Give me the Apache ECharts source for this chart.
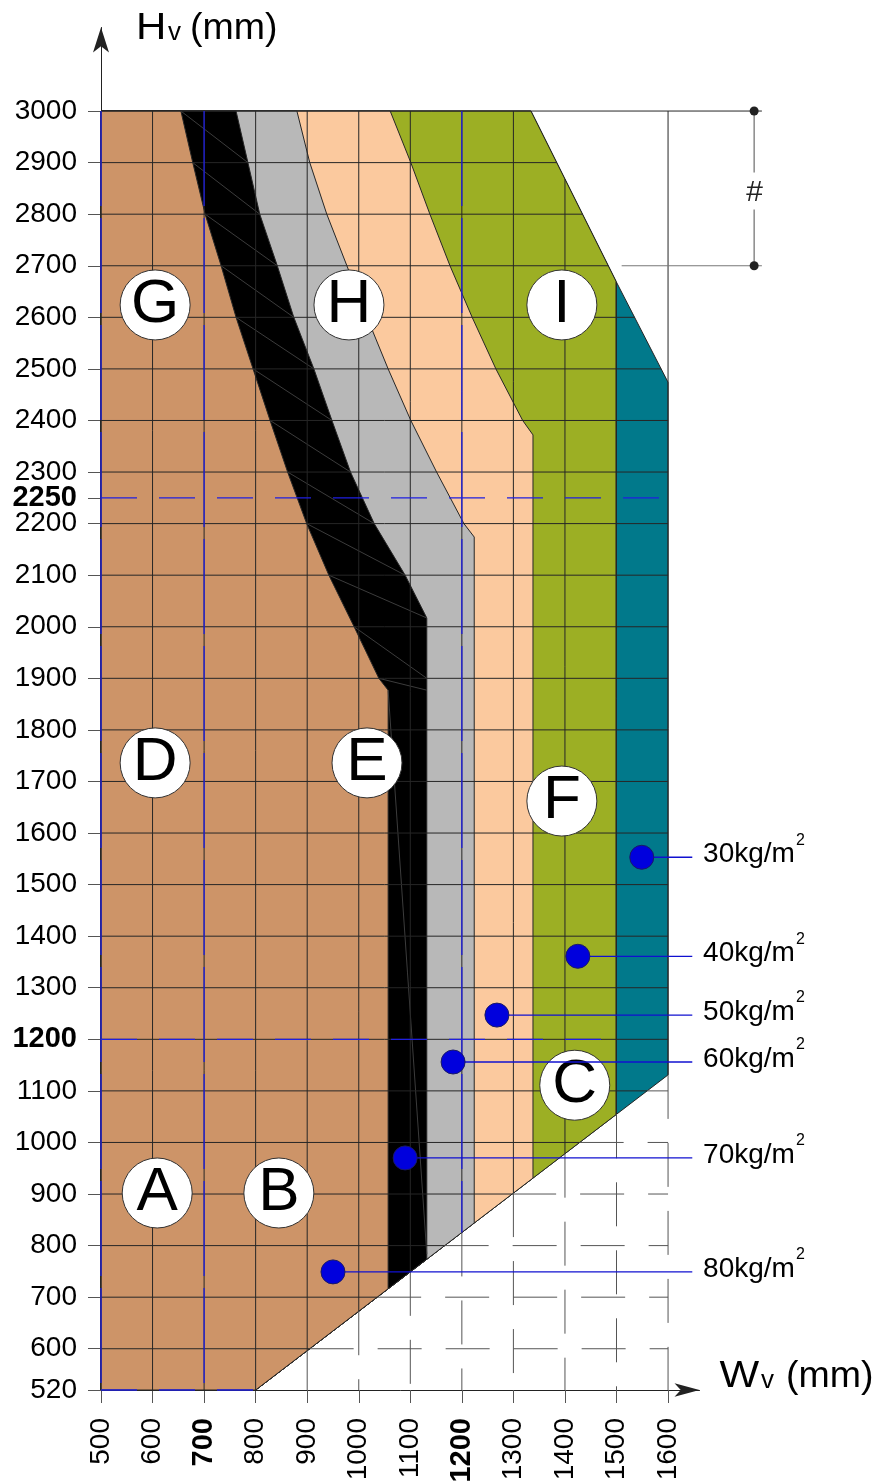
<!DOCTYPE html>
<html>
<head>
<meta charset="utf-8">
<script src="https://cdn.jsdelivr.net/npm/echarts@6/dist/echarts.min.js"></script>
<style>
html,body{margin:0;padding:0;background:#fff;}
#chart{width:877px;height:1483px;}
</style>
</head>
<body>
<div id="chart"></div>
<script>
// ---- axis ticks ----
const xTicks = [500, 600, 700, 800, 900, 1000, 1100, 1200, 1300, 1400, 1500, 1600];
const xBoldTicks = [700, 1200];
const yTicks = [520, 600, 700, 800, 900, 1000, 1100, 1200, 1300, 1400, 1500, 1600, 1700, 1800,
  1900, 2000, 2100, 2200, 2250, 2300, 2400, 2500, 2600, 2700, 2800, 2900, 3000];
const yBoldTicks = [1200, 2250];
const gridH = [600, 700, 800, 900, 1000, 1100, 1200, 1300, 1400, 1500, 1600, 1700, 1800,
  1900, 2000, 2100, 2200, 2300, 2400, 2500, 2600, 2700, 2800, 2900, 3000];

// ---- zone boundaries (W, H), listed from the top down ----
const edgeBrown = [[655,3000],[678,2900],[702,2800],[733,2700],[762,2600],[795,2500],[828,2400],
  [862,2300],[899,2200],[942,2100],[991,2000],[1039,1900],[1057,1877]];
const edgeBlack = [[762,3000],[785,2900],[808,2800],[842,2700],[874,2600],[913,2500],[948,2400],
  [984,2300],[1030,2200],[1090,2100],[1132,2017]];
const edgeGray = [[880,3000],[905,2900],[938,2800],[977,2700],[1016,2600],[1057,2500],[1101,2400],
  [1151,2300],[1204,2200],[1224,2174]];
const edgePeach = [[1061,3000],[1101,2900],[1138,2800],[1177,2700],[1220,2600],[1266,2500],
  [1318,2400],[1338,2372]];
const edgeOlive = [[1334,3000],[1499,2670]];
const edgeTeal = [[1334,3000],[1499,2670],[1600,2474]];
const floorLine = [[800,520],[1600,1131]];

// ---- zone letters ----
const zoneLetters = ['G','H','I','D','E','F','A','B','C'];
const zoneW = [605, 981, 1394, 605, 1016, 1394, 609, 845, 1419];
const zoneH = [2624, 2624, 2624, 1736, 1736, 1662, 902, 902, 1111];

// ---- load points (kg/m²) ----
const loadValues = [30, 40, 50, 60, 70, 80];
const loadW = [1549, 1425, 1268, 1183, 1090, 950];
const loadH = [1553, 1361, 1247, 1156, 970, 749];

// ---- reference lines ----
const refLinesH = [[2250, 500, 1600], [1200, 500, 1480], [520, 500, 800]];
const refLinesW = [500, 700, 1200];

// ---- dimension marker ----
const dimW = 1767, dimTop = 3000, dimBottom = 2700;
const leaderEndW = 1647, loadTextW = 1668;

const FONT = '"Liberation Sans", Arial, sans-serif';
const GRID_COLOR = '#262626';
const BLUE = '#1f1fe0';

function lerp(a, b, t) { return a + (b - a) * t; }
function floorH(w) { const [a, b] = floorLine; return lerp(a[1], b[1], (w - a[0]) / (b[0] - a[0])); }
function floorW(h) { const [a, b] = floorLine; return lerp(a[0], b[0], (h - a[1]) / (b[1] - a[1])); }
// top of the coloured area at width w
function outerTop(w) {
  const e = edgeTeal;
  if (w <= e[0][0]) return 3000;
  for (let i = 0; i < e.length - 1; i++) {
    if (w >= e[i][0] && w <= e[i + 1][0]) return lerp(e[i][1], e[i + 1][1], (w - e[i][0]) / (e[i + 1][0] - e[i][0]));
  }
  return e[e.length - 1][1];
}
// right edge of the coloured area at height h
function outerRight(h) {
  const e = edgeTeal;
  if (h <= e[e.length - 1][1]) return e[e.length - 1][0];
  if (h >= e[0][1]) return e[0][0];
  for (let i = 0; i < e.length - 1; i++) {
    if (h <= e[i][1] && h >= e[i + 1][1]) return lerp(e[i][0], e[i + 1][0], (e[i][1] - h) / (e[i][1] - e[i + 1][1]));
  }
  return e[e.length - 1][0];
}

function zonePolygon(edge) {
  const last = edge[edge.length - 1];
  const pts = [[500, 3000]].concat(edge);
  pts.push([last[0], floorH(last[0])]);
  if (last[0] > 800) pts.push([800, 520]);
  pts.push([500, 520]);
  return pts;
}

const zones = [
  { edge: edgeTeal, color: '#01798B' },
  { edge: edgeOlive, color: '#9CAF24' },
  { edge: edgePeach, color: '#FBC99E' },
  { edge: edgeGray, color: '#B8B8B8' },
  { edge: edgeBlack, color: '#000000' },
  { edge: edgeBrown, color: '#CD9468' }
];

// ---- line segments: grid, hatch, reference lines ----
const segs = [];
function seg(a, b, stroke, width, dash) { segs.push({ a, b, stroke, width, dash }); }

// triangulation strokes inside the black band
for (let i = 0; i < edgeBrown.length - 1; i++) {
  const j = Math.min(i + 1, edgeBlack.length - 1);
  if (i + 1 < edgeBlack.length) seg(edgeBrown[i], edgeBlack[i + 1], '#3c3c3c', 1);
  else seg(edgeBrown[i], [edgeBlack[j][0], edgeBrown[i + 1][1]], '#3c3c3c', 1);
}
{
  const bl = edgeBrown[edgeBrown.length - 1], kr = edgeBlack[edgeBlack.length - 1];
  seg(bl, [kr[0], floorH(kr[0]) + 10], '#3c3c3c', 1);
}

// vertical grid lines
xTicks.forEach(w => {
  const top = w === 1600 ? 3000 : outerTop(w);
  const bottom = w <= 800 ? 520 : floorH(w);
  seg([w, top], [w, bottom], GRID_COLOR, 1);
  if (w > 800) seg([w, bottom], [w, 520], '#555', 1, [44, 24]);
});
// horizontal grid lines
const floorTop = floorLine[1][1];
gridH.forEach(h => {
  if (h === 3000) { seg([500, h], [dimW + 15, h], GRID_COLOR, 1); return; }
  if (h < floorTop) {
    const fw = floorW(h);
    seg([500, h], [fw, h], GRID_COLOR, 1);
    seg([fw, h], [1600, h], '#555', 1, [44, 24]);
  } else {
    seg([500, h], [outerRight(h), h], GRID_COLOR, 1);
  }
});
// dimension extension at 2700
seg([1510, dimBottom], [dimW + 15, dimBottom], '#777', 1);

// blue reference lines
refLinesW.forEach(w => {
  const bottom = w <= 800 ? 520 : floorH(w);
  seg([w, 3000], [w, bottom], BLUE, 1.3, [95, 12]);
});
refLinesH.forEach(([h, w0, w1]) => seg([w0, h], [w1, h], BLUE, 1.3, [36, 22]));

// ---- text width helper ----
const measureCtx = document.createElement('canvas').getContext('2d');
function textWidth(str, size) {
  measureCtx.font = size + 'px "Liberation Sans"';
  return measureCtx.measureText(str).width;
}

// axis title pieces: [text, x, baseline, size, scaleX]
const MID = 0.3465; // em-middle above the baseline
const titleParts = [
  ['H', 136, 42, 37.5, 1.12], ['v', 168, 42, 26, 1], ['(mm)', 190, 42, 37.5, 1],
  ['W', 719.5, 1390, 37.5, 1.12], ['v', 761, 1390, 26, 1], ['(mm)', 786, 1390, 37.5, 1]
];

const chart = echarts.init(document.getElementById('chart'));

const option = {
  backgroundColor: '#ffffff',
  animation: false,
  grid: { left: 101, right: 177.5, top: 27.5, bottom: 93, outerBoundsMode: 'none', containLabel: false },
  xAxis: {
    type: 'value', min: 500, max: 1661,
    axisLine: { show: true, onZero: false, symbol: ['none', 'arrow'], symbolSize: [10, 25],
      lineStyle: { color: '#222', width: 1 } },
    axisTick: { show: true, customValues: xTicks, length: 13, lineStyle: { color: '#555' } },
    axisLabel: {
      customValues: xTicks, rotate: 90, margin: 28, fontSize: 28, color: '#000', fontFamily: FONT,
      formatter: v => xBoldTicks.includes(v) ? '{b|' + v + '}' : String(v),
      rich: { b: { fontWeight: 'bold', fontSize: 29, fontFamily: FONT, color: '#000' } }
    },
    splitLine: { show: false }
  },
  yAxis: {
    type: 'value', min: 520, max: 3162,
    axisLine: { show: true, onZero: false, symbol: ['none', 'arrow'], symbolSize: [12, 25],
      lineStyle: { color: '#222', width: 1 } },
    axisTick: { show: true, customValues: yTicks, length: 13, lineStyle: { color: '#555' } },
    axisLabel: {
      customValues: yTicks, margin: 24, fontSize: 28, color: '#000', fontFamily: FONT,
      formatter: v => yBoldTicks.includes(v) ? '{b|' + v + '}' : String(v),
      rich: { b: { fontWeight: 'bold', fontSize: 29, fontFamily: FONT, color: '#000' } }
    },
    splitLine: { show: false }
  },
  graphic: titleParts.map(([t, x, base, size, sx]) => ({
    type: 'text', x: x, y: base - size * MID, scaleX: sx,
    style: { text: t, font: size + 'px ' + FONT, fill: '#000', verticalAlign: 'middle' }
  })),
  series: [
    {
      type: 'custom', name: 'zones', z: 1, clip: false,
      data: zones.map((_, i) => [i]),
      renderItem: (params, api) => {
        const z = zones[params.dataIndex];
        return {
          type: 'polygon',
          shape: { points: zonePolygon(z.edge).map(p => api.coord(p)) },
          style: { fill: z.color, stroke: '#262626', lineWidth: 1 }
        };
      }
    },
    {
      type: 'custom', name: 'lines', z: 2, clip: false,
      data: segs.map((_, i) => [i]),
      renderItem: (params, api) => {
        const s = segs[params.dataIndex];
        const p1 = api.coord(s.a), p2 = api.coord(s.b);
        return {
          type: 'line',
          shape: { x1: p1[0], y1: p1[1], x2: p2[0], y2: p2[1] },
          style: { stroke: s.stroke, lineWidth: s.width, lineDash: s.dash || null }
        };
      }
    },
    {
      type: 'custom', name: 'dimension', z: 2, clip: false,
      data: [[0]],
      renderItem: (params, api) => {
        const t = api.coord([dimW, dimTop]), b = api.coord([dimW, dimBottom]);
        const mid = (t[1] + b[1]) / 2 + 4;
        return {
          type: 'group',
          children: [
            { type: 'line', shape: { x1: t[0], y1: t[1], x2: t[0], y2: mid - 20 }, style: { stroke: '#777', lineWidth: 1.3 } },
            { type: 'line', shape: { x1: t[0], y1: mid + 17, x2: t[0], y2: b[1] }, style: { stroke: '#777', lineWidth: 1.3 } },
            { type: 'circle', shape: { cx: t[0], cy: t[1], r: 4.5 }, style: { fill: '#222' } },
            { type: 'circle', shape: { cx: b[0], cy: b[1], r: 4.5 }, style: { fill: '#222' } },
            { type: 'text', x: t[0], y: mid, style: { text: '#', font: 'italic 30px ' + FONT, fill: '#222', align: 'center', verticalAlign: 'middle' } }
          ]
        };
      }
    },
    {
      type: 'scatter', name: 'zoneLetters', z: 4,
      symbol: 'circle', symbolSize: 70,
      itemStyle: { color: '#fff', borderColor: '#333', borderWidth: 1, opacity: 1 },
      label: { show: true, position: 'inside', fontSize: 62, fontFamily: FONT, color: '#000',
        formatter: p => zoneLetters[p.dataIndex] },
      data: zoneW.map((w, i) => [w, zoneH[i]])
    },
    {
      type: 'custom', name: 'loadLabels', z: 5, clip: false,
      data: loadValues.map((_, i) => [i]),
      renderItem: (params, api) => {
        const i = params.dataIndex;
        const p = api.coord([loadW[i], loadH[i]]);
        const e = api.coord([leaderEndW, loadH[i]]);
        const tx = api.coord([loadTextW, loadH[i]]);
        const main = loadValues[i] + 'kg/m';
        const w = textWidth(main, 28);
        return {
          type: 'group',
          children: [
            { type: 'line', shape: { x1: p[0], y1: p[1], x2: e[0], y2: e[1] }, style: { stroke: '#1010d0', lineWidth: 1.3 } },
            { type: 'text', x: tx[0], y: tx[1] - 3, style: { text: main, font: '28px ' + FONT, fill: '#000', verticalAlign: 'middle' } },
            { type: 'text', x: tx[0] + w + 1, y: tx[1] - 17, style: { text: '2', font: '16px ' + FONT, fill: '#000', verticalAlign: 'middle' } }
          ]
        };
      }
    },
    {
      type: 'scatter', name: 'loads', z: 6,
      symbol: 'circle', symbolSize: 24,
      itemStyle: { color: '#0000DD', borderColor: '#1a1a66', borderWidth: 1, opacity: 1 },
      data: loadW.map((w, i) => [w, loadH[i]])
    }
  ]
};

chart.setOption(option);
</script>
</body>
</html>
